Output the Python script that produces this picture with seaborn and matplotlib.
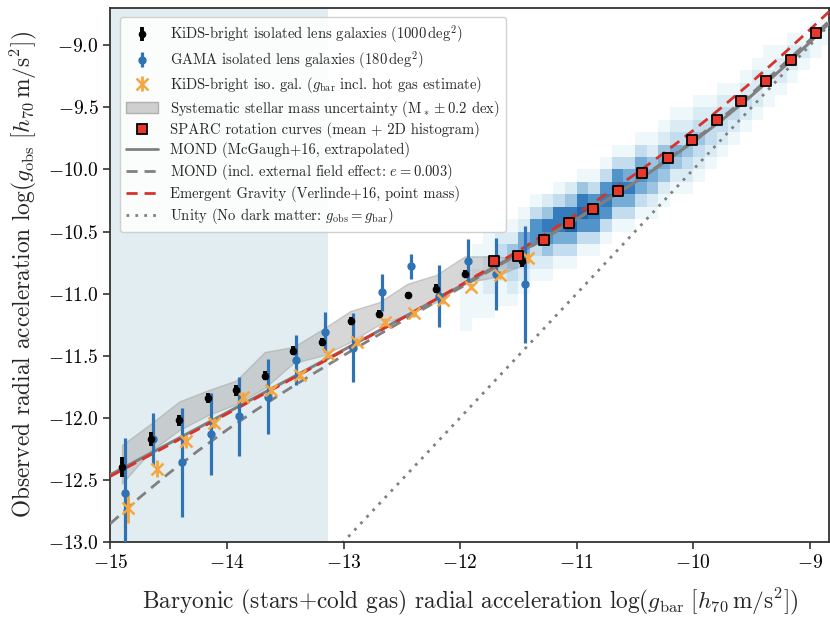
import numpy as np
import matplotlib
matplotlib.use("Agg")
import matplotlib.pyplot as plt
from matplotlib.patches import Patch
from matplotlib.lines import Line2D
from matplotlib.colors import LinearSegmentedColormap
import seaborn as sns
import pandas as pd

# ---------------- data ----------------
kids_x = [-14.90, -14.655, -14.41, -14.165, -13.92, -13.675, -13.43, -13.185,
          -12.94, -12.695, -12.45, -12.205, -11.96, -11.715, -11.47]
kids_y = [-12.40, -12.17, -12.02, -11.84, -11.78, -11.66, -11.46, -11.39,
          -11.22, -11.165, -11.01, -10.96, -10.84, -10.745, -10.735]
kids_err = [0.08, 0.055, 0.045, 0.04, 0.045, 0.04, 0.035, 0.035,
            0.03, 0.03, 0.025, 0.035, 0.03, 0.03, 0.05]

band_upper = [-12.22, -12.05, -11.87, -11.78, -11.70, -11.47, -11.43, -11.29,
              -11.14, -11.07, -10.92, -10.85, -10.70, -10.70, -10.72]
band_lower = [-12.53, -12.27, -12.10, -11.98, -11.89, -11.76, -11.56, -11.50,
              -11.39, -11.25, -11.17, -11.07, -10.91, -10.87, -10.77]

gama_x = [-14.875, -14.63, -14.385, -14.14, -13.895, -13.65, -13.405, -13.16,
          -12.915, -12.67, -12.425, -12.18, -11.935, -11.69, -11.445]
gama_y = [-12.61, -12.17, -12.36, -12.13, -11.99, -11.83, -11.535, -11.31,
          -11.435, -10.99, -10.78, -11.02, -10.735, -10.84, -10.925]
gama_err = [0.45, 0.21, 0.44, 0.33, 0.32, 0.30, 0.20, 0.16,
            0.28, 0.15, 0.10, 0.25, 0.175, 0.29, 0.47]

hot_x = [-14.845, -14.60, -14.355, -14.11, -13.865, -13.62, -13.375, -13.13,
         -12.885, -12.64, -12.395, -12.15, -11.905, -11.66, -11.415]
hot_y = [-12.73, -12.41, -12.19, -12.04, -11.83, -11.78, -11.655, -11.49,
         -11.39, -11.23, -11.16, -11.05, -10.945, -10.85, -10.71]
hot_err = [0.12, 0.07, 0.05, 0.04, 0.04, 0.035, 0.035, 0.03,
           0.03, 0.03, 0.03, 0.03, 0.03, 0.03, 0.04]

sparc_x = [-11.71, -11.50, -11.28, -11.07, -10.86, -10.65, -10.44, -10.22,
           -10.01, -9.80, -9.59, -9.38, -9.16, -8.95]
sparc_y = [-10.74, -10.70, -10.57, -10.43, -10.32, -10.175, -10.03, -9.905,
           -9.765, -9.60, -9.445, -9.29, -9.12, -8.90]

# SPARC 2D histogram: x-bin centres, lowest occupied y-bin index (y = -13 + 0.1*j),
# and counts per y-bin going upward
hist_xc = [-11.95, -11.85, -11.75, -11.65, -11.55, -11.45, -11.35, -11.25,
           -11.15, -11.05, -10.95, -10.85, -10.75, -10.65, -10.55, -10.45,
           -10.35, -10.25, -10.15, -10.05, -9.95, -9.85, -9.75, -9.65,
           -9.55, -9.45, -9.35, -9.25, -9.15, -9.05, -8.95, -8.85]
hist_j0 = [17, 18, 18, 19, 19, 20, 21, 21, 22, 22, 23, 23, 24, 25, 25, 26,
           26, 27, 28, 28, 29, 30, 31, 32, 33, 34, 35, 36, 37, 38, 39, 40]
hist_counts = ["11111", "111211", "1122211", "1123321", "1234421",
               "1235521", "1236631", "1246742", "1357731",
               "1358742", "1368741", "1367631", "1367631",
               "1357631", "1357531", "1356531", "1245421",
               "1245421", "1245321", "1234321", "1234321",
               "123321", "123321", "12321", "12321", "12221",
               "11211", "1221", "1221", "121", "111", "11"]

# model curves
mond_x = [-15, -14.5, -14, -13.5, -13, -12.5, -12, -11.5, -11, -10.5, -10.25,
          -10, -9.75, -9.5, -9.25, -9, -8.8]
mond_y = [-12.460, -12.209, -11.959, -11.707, -11.454, -11.199, -10.941,
          -10.676, -10.399, -10.104, -9.945, -9.777, -9.598, -9.405, -9.197,
          -8.975, -8.788]
eg_y = [-12.472, -12.221, -11.969, -11.716, -11.460, -11.201, -10.934,
        -10.656, -10.360, -10.039, -9.866, -9.685, -9.495, -9.296, -9.089,
        -8.874, -8.697]
efe_x = [-15, -14.75, -14.5, -14.25, -14, -13.75, -13.5, -13.25, -13, -12.75,
         -12.5, -12, -11.5, -11, -10.5, -10, -9.5, -9, -8.8]
efe_y = [-12.853, -12.644, -12.449, -12.268, -12.098, -11.938, -11.786,
         -11.640, -11.498, -11.360, -11.224, -10.954, -10.683, -10.402,
         -10.102, -9.769, -9.389, -8.956, -8.770]
unity_x = [-15, -8.8]

x_ticks = [-15, -14, -13, -12, -11, -10, -9]
y_ticks = [-13.0, -12.5, -12.0, -11.5, -11.0, -10.5, -10.0, -9.5, -9.0]

# ---------------- style ----------------
sns.set_style("ticks")
plt.rcParams.update({
    "font.family": ["cmr10", "DejaVu Serif"],
    "mathtext.fontset": "cm",
    "axes.formatter.use_mathtext": True,
    "axes.unicode_minus": True,
    "axes.edgecolor": "#333333",
    "axes.linewidth": 1.3,
    "xtick.color": "#333333",
    "ytick.color": "#333333",
    "xtick.labelcolor": "black",
    "ytick.labelcolor": "black",
})

fig = plt.figure(figsize=(8.3, 6.2), dpi=100)
ax = fig.add_axes([0.1329, 0.126, 0.8661, 0.861])

c_blue = "#2f73b5"
c_orange = "#f5a640"
c_red = "#d8322a"
c_grey = "#808080"

ax.axvspan(-15, -13.13, color="#e1edf0", zorder=0, lw=0)

# histogram
hist_cmap = LinearSegmentedColormap.from_list(
    "sparc", ["#eef8fa", "#c9e0ef", "#7fb3da", "#3a85c2", "#1a5a9e"])
xe = np.round(np.arange(-12.0, -8.79, 0.1), 3)
ye = np.round(np.arange(-13.0, -8.59, 0.1), 3)
H = np.zeros((len(ye) - 1, len(xe) - 1))
for i, (j0, s) in enumerate(zip(hist_j0, hist_counts)):
    for k, ch in enumerate(s):
        H[j0 + k, i] = int(ch)
Hm = np.ma.masked_where(H == 0, H)
ax.pcolormesh(xe, ye, Hm, cmap=hist_cmap, vmin=1, vmax=8.5, zorder=1,
              shading="flat", lw=0)

# unity
sns.lineplot(x=unity_x, y=unity_x, ax=ax, color=c_grey, lw=2, ls=(0, (1, 2.2)),
             zorder=2)

# band
ax.fill_between(kids_x, band_lower, band_upper, color="#a8a8a8", alpha=0.45,
                edgecolor="#9a9a9a", lw=1, zorder=3)

# model lines
sns.lineplot(x=mond_x, y=mond_y, ax=ax, color=c_grey, lw=2.2, zorder=4)
sns.lineplot(x=efe_x, y=efe_y, ax=ax, color=c_grey, lw=2, ls=(0, (4, 2.5)),
             zorder=4)
sns.lineplot(x=mond_x, y=eg_y, ax=ax, color=c_red, lw=2, ls=(0, (4, 2.5)),
             zorder=5)

# data points
eb_kids = ax.errorbar(kids_x, kids_y, yerr=kids_err, fmt="o", color="black",
                      ms=4.5, elinewidth=2.8, capsize=0, zorder=7)
eb_gama = ax.errorbar(gama_x, gama_y, yerr=gama_err, fmt="o", color=c_blue,
                      ms=5, elinewidth=2.3, capsize=0, zorder=6)
eb_hot = ax.errorbar(hot_x, hot_y, yerr=hot_err, fmt="x", color=c_orange,
                     ms=8, mew=1.8, elinewidth=2, capsize=0, zorder=6)

sparc_df = pd.DataFrame({"x": sparc_x, "y": sparc_y})
sns.scatterplot(data=sparc_df, x="x", y="y", ax=ax, marker="s", s=55,
                color="#e8382b", edgecolor="black", linewidth=1.3, zorder=8)

ax.set_xlim(-15, -8.835)
ax.set_ylim(-13, -8.7)
ax.set_xticks(x_ticks)
ax.set_yticks(y_ticks)
ax.set_yticklabels([f"${v:.1f}$" for v in y_ticks])
ax.tick_params(labelsize=14, direction="out", length=5, width=1.2)
ax.set_xlabel(r"Baryonic (stars+cold gas) radial acceleration $\log(g_{\rm bar}\ [h_{70}\,{\rm m/s^2}])$",
              fontsize=16.8, labelpad=10)
ax.set_ylabel(r"Observed radial acceleration $\log(g_{\rm obs}\ [h_{70}\,{\rm m/s^2}])$",
              fontsize=16.8, labelpad=6)
for sp in ax.spines.values():
    sp.set_visible(True)

handles = [
    eb_kids, eb_gama, eb_hot,
    Patch(facecolor="#cfcfcf", edgecolor="#b0b0b0"),
    Line2D([], [], ls="none", marker="s", ms=7.5, mfc="#e8382b", mec="black", mew=1.3),
    Line2D([], [], color=c_grey, lw=2),
    Line2D([], [], color=c_grey, lw=2, ls=(0, (4, 2.5))),
    Line2D([], [], color=c_red, lw=2, ls=(0, (4, 2.5))),
    Line2D([], [], color=c_grey, lw=2, ls=(0, (1, 2.2))),
]
labels = [
    r"KiDS-bright isolated lens galaxies (1000$\,$deg$^2$)",
    r"GAMA isolated lens galaxies (180$\,$deg$^2$)",
    r"KiDS-bright iso. gal. ($g_{\rm bar}$ incl. hot gas estimate)",
    r"Systematic stellar mass uncertainty (M$_*\pm0.2$ dex)",
    "SPARC rotation curves (mean + 2D histogram)",
    "MOND (McGaugh+16, extrapolated)",
    r"MOND (incl. external field effect: $e=0.003$)",
    "Emergent Gravity (Verlinde+16, point mass)",
    r"Unity (No dark matter: $g_{\rm obs}=g_{\rm bar}$)",
]
if ax.get_legend() is not None:
    ax.get_legend().remove()
leg = ax.legend(handles, labels, loc="upper left", fontsize=10.5,
                frameon=True, framealpha=0.9, edgecolor="#cccccc",
                borderpad=0.45, labelspacing=0.26, handlelength=2.2,
                bbox_to_anchor=(0.003, 0.997))
leg.set_zorder(20)

fig.savefig("out.png", dpi=100)
